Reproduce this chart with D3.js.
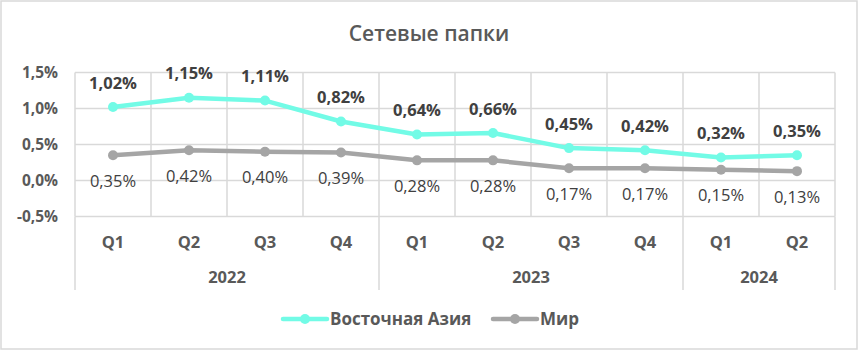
<!DOCTYPE html>
<html><head><meta charset="utf-8">
<script src="https://cdn.jsdelivr.net/npm/d3@7"></script>
<style>body{margin:0;background:#fff}svg{display:block}text{font-family:"Open Sans",sans-serif}</style>
</head><body>
<script>
const title = "Сетевые папки";
const quarters = ["Q1","Q2","Q3","Q4","Q1","Q2","Q3","Q4","Q1","Q2"];
const years = ["2022","2023","2024"];
const yearCounts = [4,4,2];
const seriesNames = ["Восточная Азия","Мир"];
const asia = [1.02,1.15,1.11,0.82,0.64,0.66,0.45,0.42,0.32,0.35];
const world = [0.35,0.42,0.40,0.39,0.28,0.28,0.17,0.17,0.15,0.13];
const yTicks = [-0.5,0,0.5,1.0,1.5];

(function(){
const W=859,H=351;
const svg=d3.select("body").append("svg").attr("width",W).attr("height",H);
svg.append("rect").attr("x",1).attr("y",1).attr("width",W-3).attr("height",H-3)
  .attr("fill","#fff").attr("stroke","#d9d9d9").attr("stroke-width",1.5);

const pl=75,pr=835,pt=72.5,pb=216.5;
const idx=d3.range(quarters.length);
const x=d3.scaleBand().domain(idx).range([pl,pr]);
const y=d3.scaleLinear().domain([-0.5,1.5]).range([pb,pt]);
const fmt=v=>v.toFixed(1).replace(".",",")+"%";
const fmt2=v=>v.toFixed(2).replace(".",",")+"%";
const grid="#d9d9d9";

svg.append("text").attr("x",429).attr("y",40.5).attr("text-anchor","middle")
  .attr("font-size",21).attr("font-weight",600).attr("fill","#595959").text(title);

svg.selectAll(".hg").data(yTicks).join("line")
  .attr("x1",pl).attr("x2",pr).attr("y1",d=>y(d)).attr("y2",d=>y(d))
  .attr("stroke",grid).attr("stroke-width",1.5);
const bounds=d3.range(quarters.length+1);
svg.selectAll(".vg").data(bounds).join("line")
  .attr("x1",d=>pl+d*x.bandwidth()).attr("x2",d=>pl+d*x.bandwidth())
  .attr("y1",pt).attr("y2",pb).attr("stroke",grid).attr("stroke-width",1.5);
let cum=[0];yearCounts.forEach(c=>cum.push(cum[cum.length-1]+c));
svg.selectAll(".ys").data(cum).join("line")
  .attr("x1",d=>pl+d*x.bandwidth()).attr("x2",d=>pl+d*x.bandwidth())
  .attr("y1",pb).attr("y2",290).attr("stroke",grid).attr("stroke-width",1.5);

svg.selectAll(".yl").data(yTicks).join("text")
  .attr("x",58).attr("y",d=>y(d)).attr("dy","0.35em").attr("text-anchor","end")
  .attr("font-size",15.5).attr("font-weight",700).attr("fill","#595959").text(fmt);

svg.selectAll(".ql").data(quarters).join("text")
  .attr("x",(d,i)=>x(i)+x.bandwidth()/2).attr("y",242).attr("dy","0.35em")
  .attr("text-anchor","middle").attr("font-size",16.5).attr("font-weight",700).attr("fill","#595959").text(d=>d);
svg.selectAll(".yrl").data(years).join("text")
  .attr("x",(d,i)=>pl+(cum[i]+cum[i+1])/2*x.bandwidth()).attr("y",277).attr("dy","0.35em")
  .attr("text-anchor","middle").attr("font-size",16.5).attr("font-weight",700).attr("fill","#595959").text(d=>d);

const cx=i=>x(i)+x.bandwidth()/2;
const line=d3.line().x((d,i)=>cx(i)).y(d=>y(d));
const series=[{name:seriesNames[0],vals:asia,color:"#72FBE6"},{name:seriesNames[1],vals:world,color:"#A5A5A5"}];
[series[1],series[0]].forEach(s=>{
  svg.append("path").datum(s.vals).attr("d",line).attr("fill","none")
    .attr("stroke",s.color).attr("stroke-width",4.5).attr("stroke-linejoin","round").attr("stroke-linecap","round");
  svg.append("g").selectAll("circle").data(s.vals).join("circle").attr("cx",(d,i)=>cx(i)).attr("cy",d=>y(d))
    .attr("r",5).attr("fill",s.color);
});
svg.append("g").selectAll("text").data(asia).join("text")
  .attr("x",(d,i)=>cx(i)).attr("y",d=>y(d)-24).attr("dy","0.35em").attr("text-anchor","middle")
  .attr("font-size",16.5).attr("font-weight",700).attr("fill","#404040").text(fmt2);
svg.append("g").selectAll("text").data(world).join("text")
  .attr("x",(d,i)=>cx(i)).attr("y",d=>y(d)+26).attr("dy","0.35em").attr("text-anchor","middle")
  .attr("font-size",16.5).attr("fill","#404040").text(fmt2);

const leg=[{x:283,s:series[0]},{x:493,s:series[1]}];
leg.forEach(l=>{
  const g=svg.append("g");
  g.append("line").attr("x1",l.x).attr("x2",l.x+44).attr("y1",319).attr("y2",319)
    .attr("stroke",l.s.color).attr("stroke-width",4.5).attr("stroke-linecap","round");
  g.append("circle").attr("cx",l.x+22).attr("cy",319).attr("r",5).attr("fill",l.s.color);
  g.append("text").attr("x",l.x+47).attr("y",319).attr("dy","0.35em")
    .attr("font-size",17).attr("font-weight",700).attr("fill","#595959").text(l.s.name);
});
})();
</script>
</body></html>
